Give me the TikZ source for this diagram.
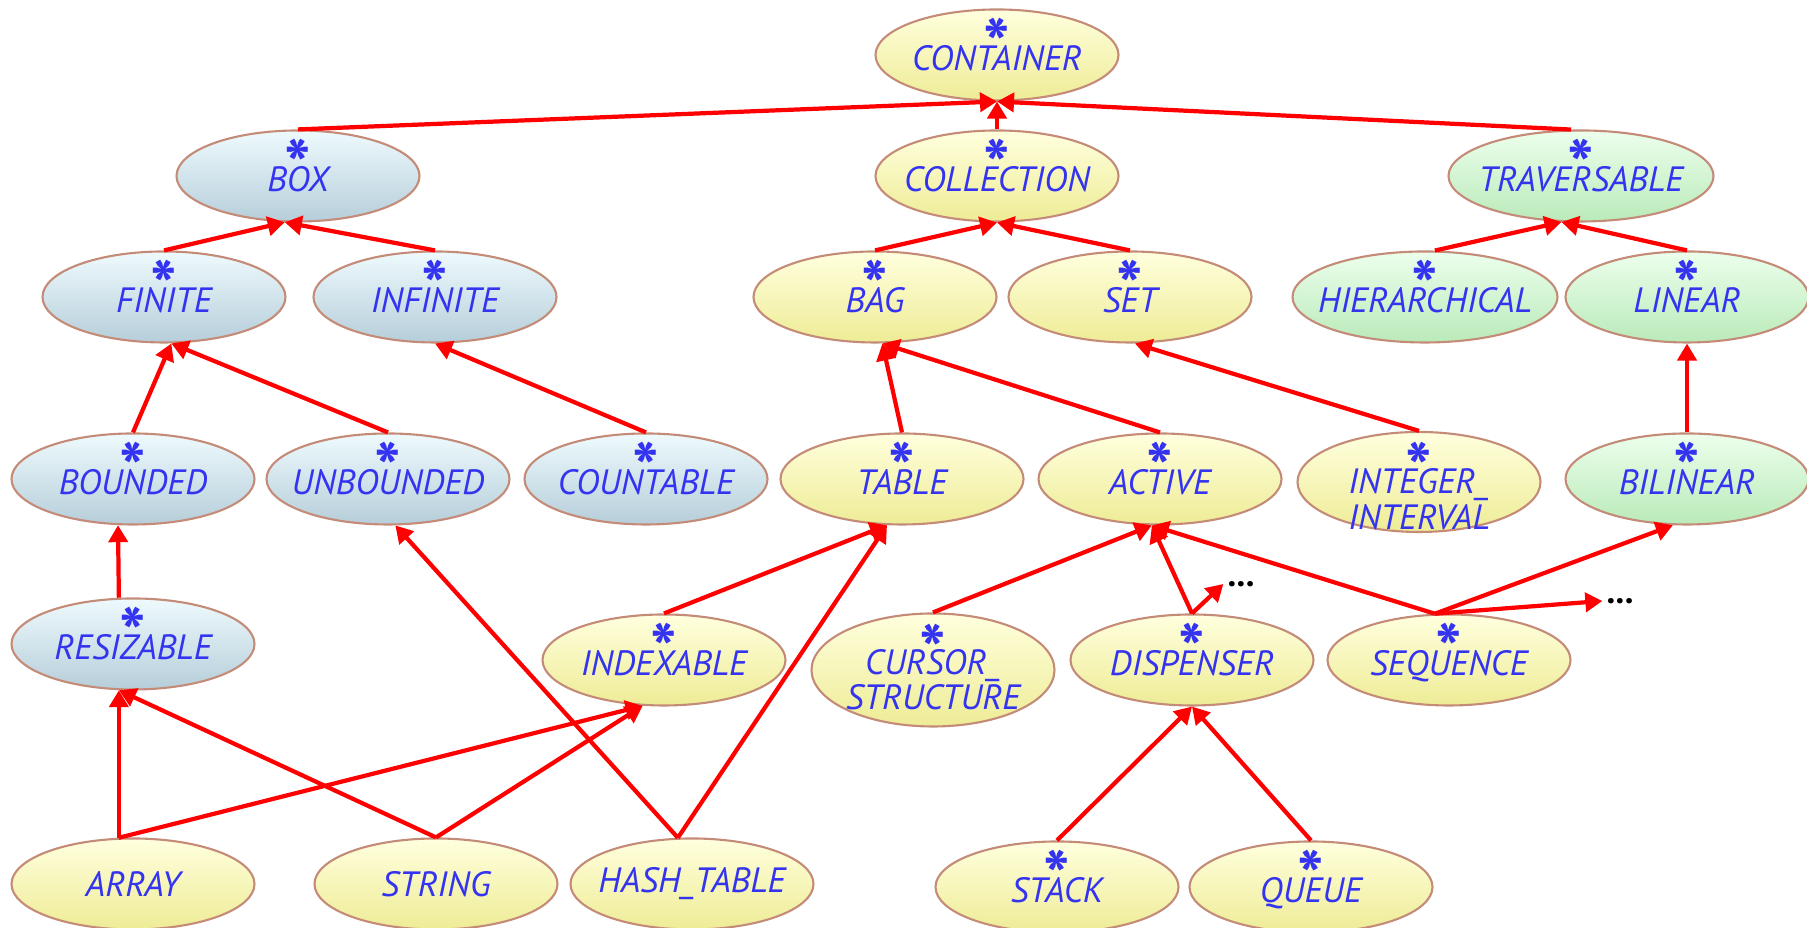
\documentclass[tikz,border=0pt]{standalone}
\usepackage{fontspec}
\setmainfont{PT Sans}
\usetikzlibrary{shapes.geometric, arrows.meta}

\definecolor{clsblue}{RGB}{51,51,240}
\definecolor{rimbrown}{RGB}{196,140,120}
\definecolor{yeltop}{RGB}{255,255,222}
\definecolor{yelbot}{RGB}{238,236,150}
\definecolor{icetop}{RGB}{238,250,253}
\definecolor{icebot}{RGB}{182,206,218}
\definecolor{mintop}{RGB}{236,255,236}
\definecolor{minbot}{RGB}{186,234,186}

\begin{document}
\begin{tikzpicture}[
    cls/.style={ellipse, draw=rimbrown, line width=0.6pt, minimum width=2.43cm,
        minimum height=0.91cm, inner xsep=-0.25cm, inner ysep=0pt, align=center,
        text=clsblue, font=\fontsize{10}{10}\selectfont\itshape},
    yel/.style={cls, top color=yeltop, bottom color=yelbot},
    ice/.style={cls, top color=icetop, bottom color=icebot},
    mint/.style={cls, top color=mintop, bottom color=minbot},
    dfr/.style={text height=9pt, text depth=0pt},
    twoline/.style={text depth=0pt, inner ysep=-0.3cm},
    starmk/.style={anchor=north, inner sep=0pt, text=clsblue,
        font=\fontsize{20}{20}\selectfont\bfseries},
    inh/.style={red, line width=1.2pt, -{Triangle[length=1.7mm, width=1.9mm]}},
    more/.style={inner sep=1pt, font=\bfseries}
  ]
  \useasboundingbox (0, 0) rectangle (18.07, 9.28);

  % top of the hierarchy
  \node [yel, dfr] (container) at (9.97, 8.73) {CONTAINER};
  \node [ice, dfr] (box) at (2.98, 7.52) {BOX};
  \node [yel, dfr] (collection) at (9.97, 7.52) {COLLECTION};
  \node [mint, dfr, minimum width=2.65cm] (traversable) at (15.81, 7.52) {TRAVERSABLE};

  \node [ice, dfr] (finite) at (1.64, 6.31) {FINITE};
  \node [ice, dfr] (infinite) at (4.35, 6.31) {INFINITE};
  \node [yel, dfr] (bag) at (8.75, 6.31) {BAG};
  \node [yel, dfr] (set) at (11.30, 6.31) {SET};
  \node [mint, dfr, minimum width=2.65cm] (hierarchical) at (14.25, 6.31) {HIERARCHICAL};
  \node [mint, dfr] (linear) at (16.87, 6.31) {LINEAR};

  \node [ice, dfr] (bounded) at (1.33, 4.49) {BOUNDED};
  \node [ice, dfr] (unbounded) at (3.88, 4.49) {UNBOUNDED};
  \node [ice, dfr] (countable) at (6.46, 4.49) {COUNTABLE};
  \node [yel, dfr] (table) at (9.02, 4.49) {TABLE};
  \node [yel, dfr] (active) at (11.60, 4.49) {ACTIVE};
  \node [yel, twoline, text height=26.8pt, minimum height=1.0cm] (interval) at (14.19, 4.46) {INTEGER\_\\INTERVAL};
  \node [mint, dfr] (bilinear) at (16.87, 4.49) {BILINEAR};

  \node [ice, dfr] (resizable) at (1.33, 2.84) {RESIZABLE};
  \node [yel, dfr] (indexable) at (6.64, 2.68) {INDEXABLE};
  \node [yel, twoline, text height=22.7pt, minimum height=1.13cm] (cursor) at (9.33, 2.58) {CURSOR\_\\STRUCTURE};
  \node [yel, dfr] (dispenser) at (11.92, 2.68) {DISPENSER};
  \node [yel, dfr] (sequence) at (14.49, 2.68) {SEQUENCE};

  % effective classes
  \node [yel] (array) at (1.33, 0.44) {ARRAY};
  \node [yel] (string) at (4.36, 0.44) {STRING};
  \node [yel] (hashtable) at (6.92, 0.44) {HASH\_TABLE};
  \node [yel, dfr] (stack) at (10.57, 0.41) {STACK};
  \node [yel, dfr] (queue) at (13.11, 0.41) {QUEUE};

  % deferred marks
  \foreach \n in {container, box, collection, traversable, finite, infinite, bag, set,
      hierarchical, linear, bounded, unbounded, countable, table, active, bilinear,
      resizable, indexable, dispenser, sequence, stack, queue}
    \node [starmk] (\n-star) at ([yshift=3.8mm]\n.center) {*};
  \node [starmk] (interval-star) at ([yshift=4.1mm]interval.center) {*};
  \node [starmk] (cursor-star) at ([yshift=4.7mm]cursor.center) {*};

  \node [more] (moreA) at (12.41, 3.44) {...};
  \node [more] (moreB) at (16.20, 3.27) {...};

  \draw [inh] (box.north) -- (container.south);
  \draw [inh] (collection.north) -- (container.south);
  \draw [inh] (traversable.102) -- (container.south);

  \draw [inh] (finite.north) -- (box.254);
  \draw [inh] (infinite.north) -- (box.254);
  \draw [inh] (bag.north) -- (collection.south);
  \draw [inh] (set.north) -- (collection.south);
  \draw [inh] (hierarchical.78) -- (traversable.247);
  \draw [inh] (linear.north) -- (traversable.247);

  \draw [inh] (bounded.north) -- (finite.279);
  \draw [inh] (unbounded.north) -- (finite.279);
  \draw [inh] (countable.north) -- (infinite.south);
  \draw [inh] (table.north) -- (bag.279);
  \draw [inh] (active.north) -- (bag.279);
  \draw [inh] (interval.north) -- (set.276);
  \draw [inh] (bilinear.north) -- (linear.south);

  \draw [inh] (resizable.107) -- (bounded.252);
  \draw [inh] (indexable.north) -- (table.252);
  \draw [inh] (cursor.north) -- (active.260);
  \draw [inh] (dispenser.north) -- (active.260);
  \draw [inh] (sequence.107) -- (active.260);
  \draw [inh] (sequence.107) -- (bilinear.253);
  \draw [inh] (dispenser.north) -- (moreA.west);
  \draw [inh] (sequence.107) -- (moreB.west);

  \draw [inh] (array.107) -- (resizable.253);
  \draw [inh] (array.107) -- (indexable.245);
  \draw [inh] (string.north) -- (resizable.253);
  \draw [inh] (string.north) -- (indexable.245);
  \draw [inh] (hashtable.107) -- (unbounded.279);
  \draw [inh] (hashtable.107) -- (table.252);
  \draw [inh] (stack.north) -- (dispenser.south);
  \draw [inh] (queue.north) -- (dispenser.south);
\end{tikzpicture}
\end{document}
